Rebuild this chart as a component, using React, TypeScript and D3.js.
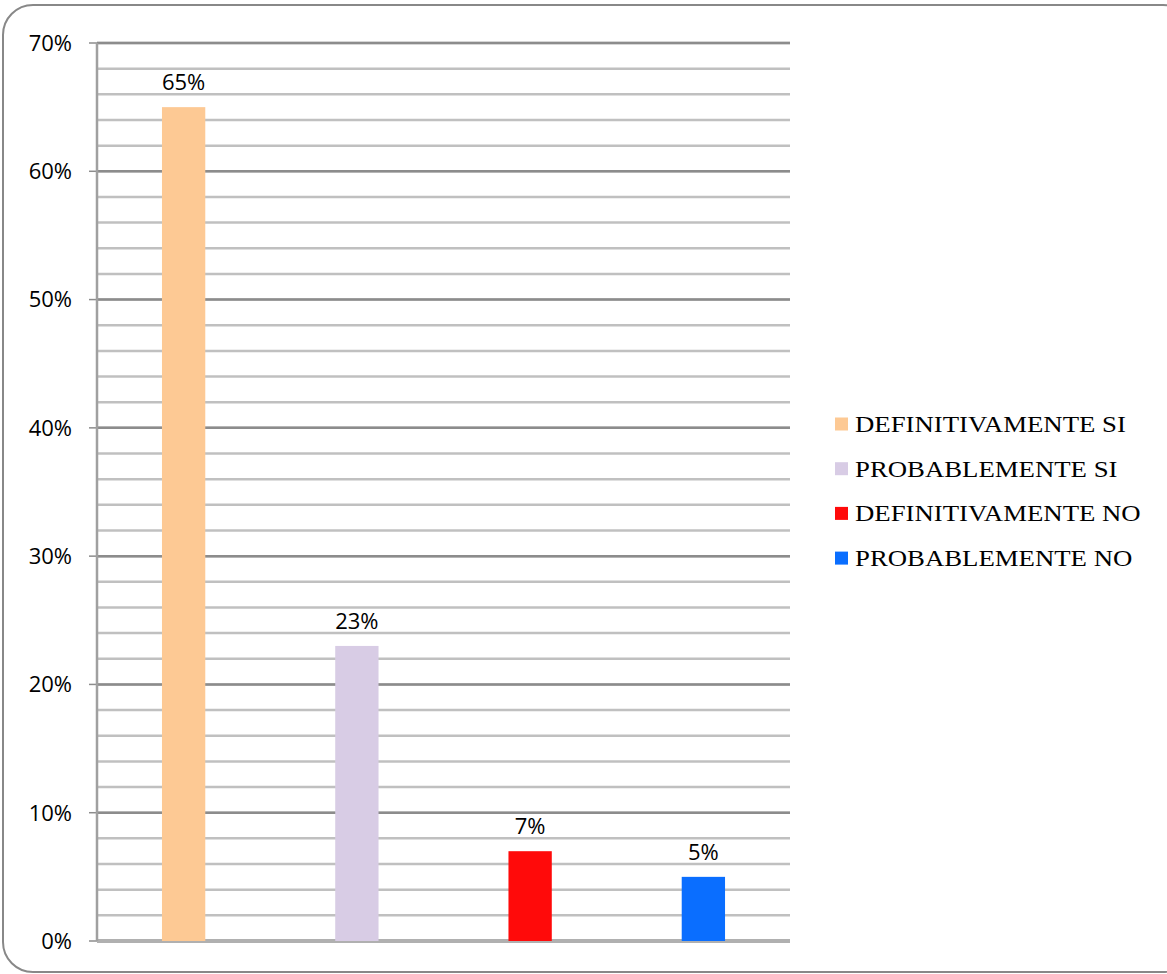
import React from "react";
import * as d3 from "d3";

const categories = ["DEFINITIVAMENTE SI", "PROBABLEMENTE SI", "DEFINITIVAMENTE NO", "PROBABLEMENTE NO"];
const values = [0.65, 0.23, 0.07, 0.05];
const labels = ["65%", "23%", "7%", "5%"];
const colors = ["#FDC994", "#D8CCE5", "#FF0A0A", "#0A6EFF"];
const majorTicks = [0, 0.1, 0.2, 0.3, 0.4, 0.5, 0.6, 0.7];
const minorTicks = d3.range(0, 36).map((i) => i * 0.02);

export default function App() {
  const W = 1167, H = 974;
  const left = 97, right = 790, top = 43, bottom = 941;
  const y = d3.scaleLinear().domain([0, 0.7]).range([bottom, top]);
  const x = d3.scaleBand().domain(categories).range([left, right]).paddingInner(0).paddingOuter(0);
  const bw = x.bandwidth() * 0.25;
  const fmt = d3.format(".0%");
  return (
    <svg width={W} height={H} style={{ position: "absolute", left: 0, top: 0, background: "#fff" }}>
      <rect x={3} y={5} width={1190} height={967} rx={30} ry={30} fill="#fff" stroke="#888" strokeWidth={2} />
      {minorTicks.map((t, i) => (
        <line key={"m" + i} x1={left} x2={right} y1={y(t)} y2={y(t)} stroke="#c0c0c0" strokeWidth={2.5} />
      ))}
      {majorTicks.map((t, i) => (
        <g key={"M" + i}>
          <line x1={left} x2={right} y1={y(t)} y2={y(t)} stroke={t === 0 ? "#b0b0b0" : "#8c8c8c"} strokeWidth={t === 0 ? 4 : 2.5} />
          <line x1={89} x2={left} y1={y(t)} y2={y(t)} stroke="#8c8c8c" strokeWidth={1.5} />
          <text x={72} y={y(t)} dy="0.36em" textAnchor="end" fontFamily="'Open Sans', sans-serif" fontSize={22} fill="#000">
            {fmt(t)}
          </text>
        </g>
      ))}
      <line x1={left} x2={left} y1={top} y2={bottom} stroke="#a0a0a0" strokeWidth={2.5} />
      {categories.map((c, i) => {
        const cx = (x(c) as number) + x.bandwidth() / 2;
        return (
          <g key={c}>
            <rect x={cx - bw / 2} y={y(values[i])} width={bw} height={bottom - y(values[i])} fill={colors[i]} />
            <text x={cx} y={y(values[i]) - 17} textAnchor="middle" fontFamily="'Open Sans', sans-serif" fontSize={22} fill="#000">
              {labels[i]}
            </text>
          </g>
        );
      })}
      {categories.map((c, i) => (
        <g key={"l" + c} transform={`translate(835, ${424 + i * 44.7})`}>
          <rect x={0} y={-6.5} width={13} height={13} fill={colors[i]} />
          <text transform="translate(20,0) scale(1.19,1)" x={0} y={0} dy="0.35em" fontFamily="'Liberation Serif', 'Times New Roman', serif" fontSize={22.5} fill="#000">
            {c}
          </text>
        </g>
      ))}
    </svg>
  );
}
